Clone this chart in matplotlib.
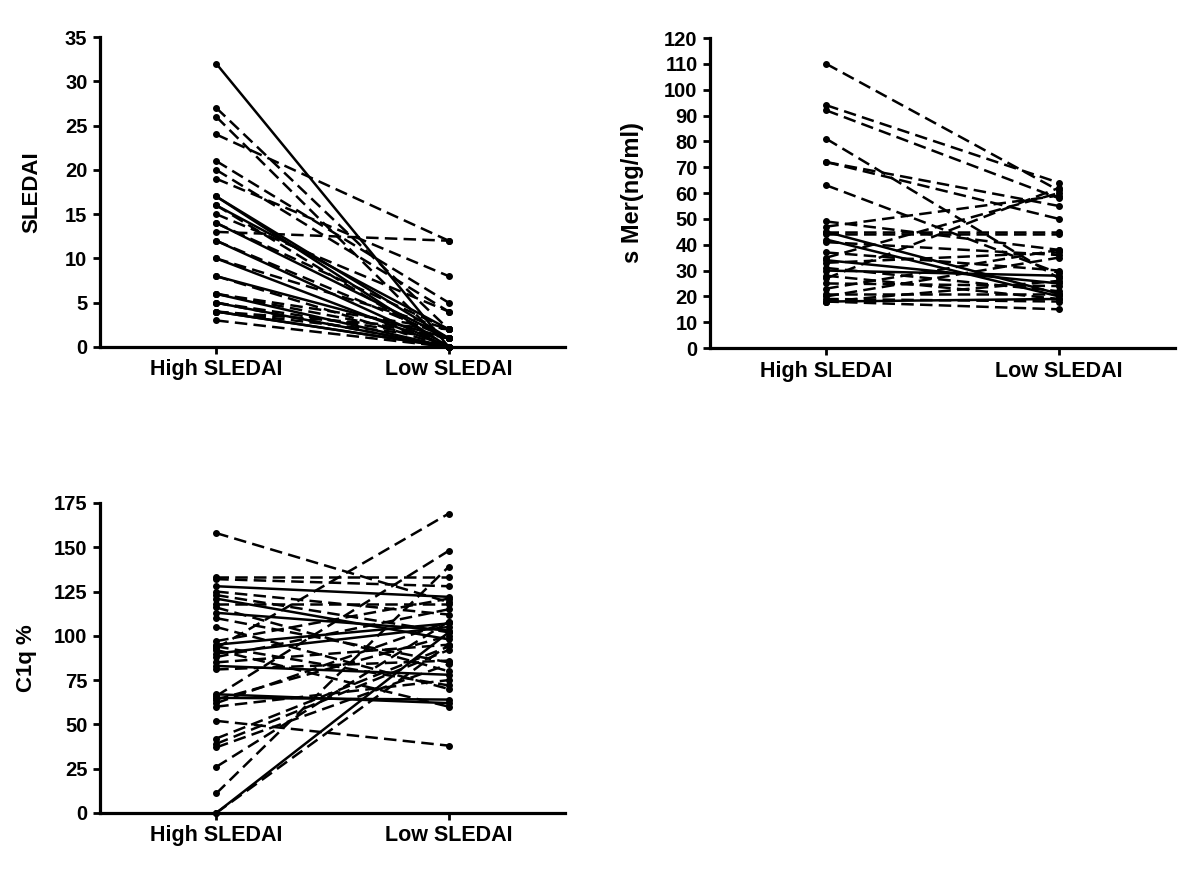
import matplotlib.pyplot as plt

plt.rcParams['font.family'] = ['Liberation Sans', 'DejaVu Sans']
plt.rcParams['font.weight'] = 'bold'

groups = ['High SLEDAI', 'Low SLEDAI']

# SLEDAI score, high vs low disease activity (paired)
sledai_high = [32, 27, 26, 24, 21, 20, 19, 17, 17, 16, 16, 15, 14, 14, 13, 12, 12,
               10, 10, 8, 8, 6, 6, 6, 5, 5, 5, 4, 4, 4, 4, 3]
sledai_low = [0, 2, 0, 12, 5, 4, 8, 0, 1, 2, 0, 4, 1, 2, 12, 0, 1,
              0, 2, 1, 0, 0, 1, 2, 0, 1, 0, 0, 1, 2, 0, 0]
sledai_solid = [1, 0, 0, 0, 0, 0, 0, 1, 1, 1, 0, 0, 1, 0, 0, 1, 0,
                1, 0, 1, 0, 1, 0, 0, 1, 0, 0, 1, 0, 0, 1, 0]

# soluble Mer (ng/ml)
mer_high = [110, 94, 92, 81, 72, 72, 63, 49, 47, 45, 45, 44, 42, 41, 37, 35, 34, 33,
            31, 30, 28, 27, 25, 23, 21, 20, 19, 18, 18, 18]
mer_low = [61, 64, 58, 27, 55, 50, 29, 38, 59, 21, 45, 44, 20, 36, 30, 60, 25, 37,
           22, 28, 19, 62, 24, 38, 21, 35, 18, 19, 15, 26]
mer_solid = [0, 0, 0, 0, 0, 0, 0, 0, 0, 1, 0, 0, 1, 0, 0, 0, 1, 0,
             0, 1, 0, 0, 0, 0, 0, 0, 0, 1, 0, 0]

# C1q %
c1q_high = [158, 133, 132, 128, 125, 123, 121, 118, 116, 113, 110, 105, 97, 95, 94, 93,
            92, 90, 88, 85, 83, 81, 67, 66, 65, 64, 62, 60, 52, 42, 39, 37, 26, 11, 0, 0]
c1q_low = [119, 133, 128, 122, 112, 102, 98, 118, 80, 103, 85, 70, 121, 107, 72, 169,
           60, 105, 115, 95, 78, 86, 62, 148, 64, 100, 108, 75, 38, 94, 92, 84, 108, 139, 102, 95]
c1q_solid = [0, 0, 0, 1, 0, 0, 1, 0, 0, 1, 0, 0, 0, 1, 0, 0,
             0, 1, 0, 0, 1, 0, 1, 0, 1, 0, 0, 0, 0, 0, 0, 0, 0, 0, 1, 0]

fig = plt.figure(figsize=(12, 8.69), dpi=100)


def paired_panel(rect, high, low, solid, ymax, step, ylabel, label_size, label_x):
    ax = fig.add_axes(rect)
    for h, l, s in zip(high, low, solid):
        ls = '-' if s else (0, (5, 2.5))
        ax.plot([0, 1], [h, l], color='black', lw=1.8, linestyle=ls,
                marker='o', markersize=4, clip_on=False)
    ax.set_xlim(-0.5, 1.5)
    ax.set_ylim(0, ymax)
    ax.set_xticks([0, 1])
    ax.set_xticklabels(groups, fontsize=15.5)
    ax.set_yticks(range(0, ymax + 1, step))
    ax.spines['top'].set_visible(False)
    ax.spines['right'].set_visible(False)
    for sp in ['left', 'bottom']:
        ax.spines[sp].set_linewidth(2.3)
    ax.tick_params(direction='out', length=5, width=2, pad=4)
    ax.tick_params(axis='y', labelsize=14.5)
    ax.set_ylabel(ylabel, fontsize=label_size, fontweight='bold')
    ax.yaxis.set_label_coords(label_x, 0.5)
    return ax


paired_panel([0.0833, 0.6007, 0.3875, 0.3567], sledai_high, sledai_low, sledai_solid,
             35, 5, 'SLEDAI', 16, -0.123)
paired_panel([0.5917, 0.5995, 0.3875, 0.3567], mer_high, mer_low, mer_solid,
             120, 10, 's Mer(ng/ml)', 17, -0.143)
paired_panel([0.0833, 0.0645, 0.3875, 0.3567], c1q_high, c1q_low, c1q_solid,
             175, 25, 'C1q %', 16, -0.135)

fig.savefig('out.png', dpi=100)
